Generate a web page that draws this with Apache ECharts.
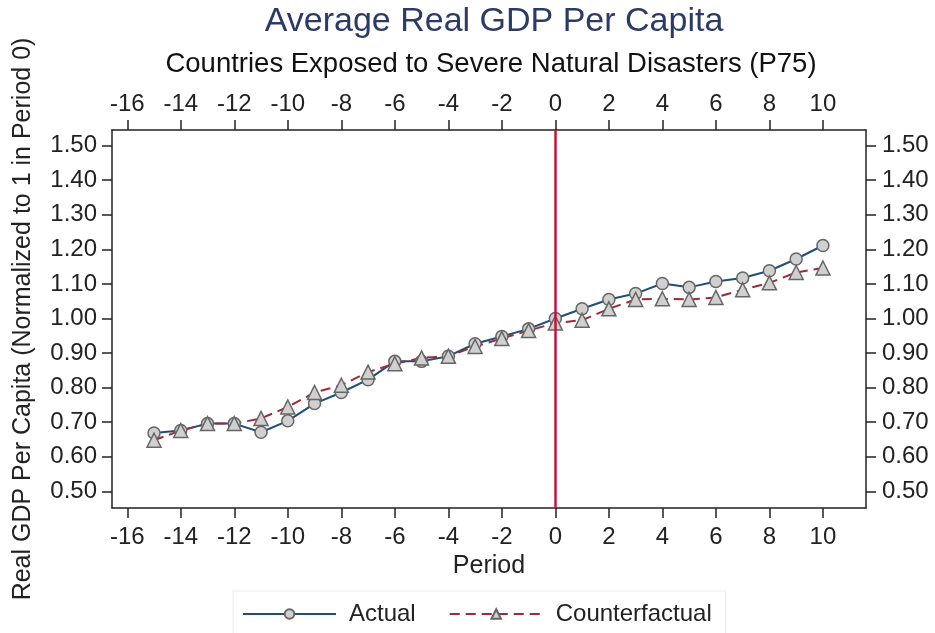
<!DOCTYPE html>
<html>
<head>
<meta charset="utf-8">
<script src="https://cdn.jsdelivr.net/npm/echarts@6/dist/echarts.min.js"></script>
<style>
  html, body { margin: 0; padding: 0; background: #fff; }
  #chart { width: 935px; height: 633px; }
</style>
</head>
<body>
<div id="chart"></div>
<script>
const periods = [-15, -14, -13, -12, -11, -10, -9, -8, -7, -6, -5, -4, -3, -2, -1, 0, 1, 2, 3, 4, 5, 6, 7, 8, 9, 10];
const actual = [0.669, 0.676, 0.696, 0.696, 0.671, 0.704, 0.754, 0.786, 0.823, 0.876, 0.876, 0.891, 0.927, 0.948, 0.970, 1.000,
  1.028, 1.055, 1.072, 1.101, 1.090, 1.107, 1.117, 1.138, 1.172, 1.211];
const counterfactual = [0.648, 0.676, 0.696, 0.696, 0.711, 0.744, 0.786, 0.807, 0.845, 0.869, 0.886, 0.891, 0.919, 0.942, 0.965, 0.987,
  0.995, 1.028, 1.055, 1.057, 1.055, 1.061, 1.083, 1.103, 1.133, 1.146];
const xTicks = [-16, -14, -12, -10, -8, -6, -4, -2, 0, 2, 4, 6, 8, 10];
const yTicks = [0.5, 0.6, 0.7, 0.8, 0.9, 1.0, 1.1, 1.2, 1.3, 1.4, 1.5];

const font = "'Liberation Sans', Arial, sans-serif";
const ink = '#222';

function pairs(ys) {
  return periods.map((p, i) => [p, ys[i]]);
}

function xAxisOf(pos) {
  return {
    type: 'value', position: pos, min: -16.57, max: 11.61,
    splitLine: {show: false},
    axisLine: {show: true, onZero: false, lineStyle: {color: ink, width: 1.5}},
    axisTick: {show: true, length: 10, customValues: xTicks, lineStyle: {color: ink, width: 1.5}},
    axisLabel: {customValues: xTicks, fontSize: 24, color: ink, fontFamily: font,
      margin: pos === 'bottom' ? 17 : 14},
    name: pos === 'bottom' ? 'Period' : '',
    nameLocation: 'middle', nameGap: 41,
    nameTextStyle: {fontSize: 25, color: ink, fontFamily: font}
  };
}

function yAxisOf(pos) {
  return {
    type: 'value', position: pos, min: 0.452, max: 1.545,
    splitLine: {show: false},
    axisLine: {show: true, onZero: false, lineStyle: {color: ink, width: 1.5}},
    axisTick: {show: true, length: 10, customValues: yTicks, lineStyle: {color: ink, width: 1.5}},
    axisLabel: {customValues: yTicks, fontSize: 24, color: ink, fontFamily: font,
      margin: pos === 'left' ? 15 : 16,
      formatter: v => v.toFixed(2)},
    name: pos === 'left' ? 'Real GDP Per Capita (Normalized to 1 in Period 0)' : '',
    nameLocation: 'middle', nameGap: 76,
    nameTextStyle: {fontSize: 25, color: ink, fontFamily: font}
  };
}

const chart = echarts.init(document.getElementById('chart'));
chart.setOption({
  backgroundColor: '#fff',
  animation: false,
  title: [
    {text: 'Average Real GDP Per Capita', left: 489, textAlign: 'center', top: 0,
      textStyle: {fontSize: 34, fontWeight: 'normal', color: '#2b3a66', fontFamily: font}},
    {text: 'Countries Exposed to Severe Natural Disasters (P75)', left: 486, textAlign: 'center', top: 45,
      textStyle: {fontSize: 27.5, fontWeight: 'normal', color: '#111', fontFamily: font}}
  ],
  grid: {left: 112, right: 69, top: 130, bottom: 125},
  xAxis: [xAxisOf('bottom'), xAxisOf('top')],
  yAxis: [yAxisOf('left'), yAxisOf('right')],
  legend: {
    top: 591, left: 233,
    padding: [11, 14, 12, 9],
    borderColor: '#e6ecee', borderWidth: 1,
    itemWidth: 93, itemHeight: 12, itemGap: 33,
    textStyle: {fontSize: 24, color: ink, fontFamily: font, padding: [0, 0, 0, 8]}
  },
  series: [
    {
      name: 'Actual', type: 'line', data: pairs(actual),
      symbol: 'circle', symbolSize: 12,
      lineStyle: {color: '#1f4e79', width: 2},
      itemStyle: {color: '#d0d0d0', borderColor: '#666', borderWidth: 1.5},
      markLine: {
        silent: true, symbol: 'none', label: {show: false},
        lineStyle: {color: '#c8103e', width: 2.5, type: 'solid'},
        data: [{xAxis: 0}]
      }
    },
    {
      name: 'Counterfactual', type: 'line', data: pairs(counterfactual),
      symbol: 'triangle', symbolSize: 14,
      lineStyle: {color: '#a0283a', width: 2, type: [10, 6]},
      itemStyle: {color: '#d0d0d0', borderColor: '#666', borderWidth: 1.5}
    }
  ]
});
</script>
</body>
</html>
